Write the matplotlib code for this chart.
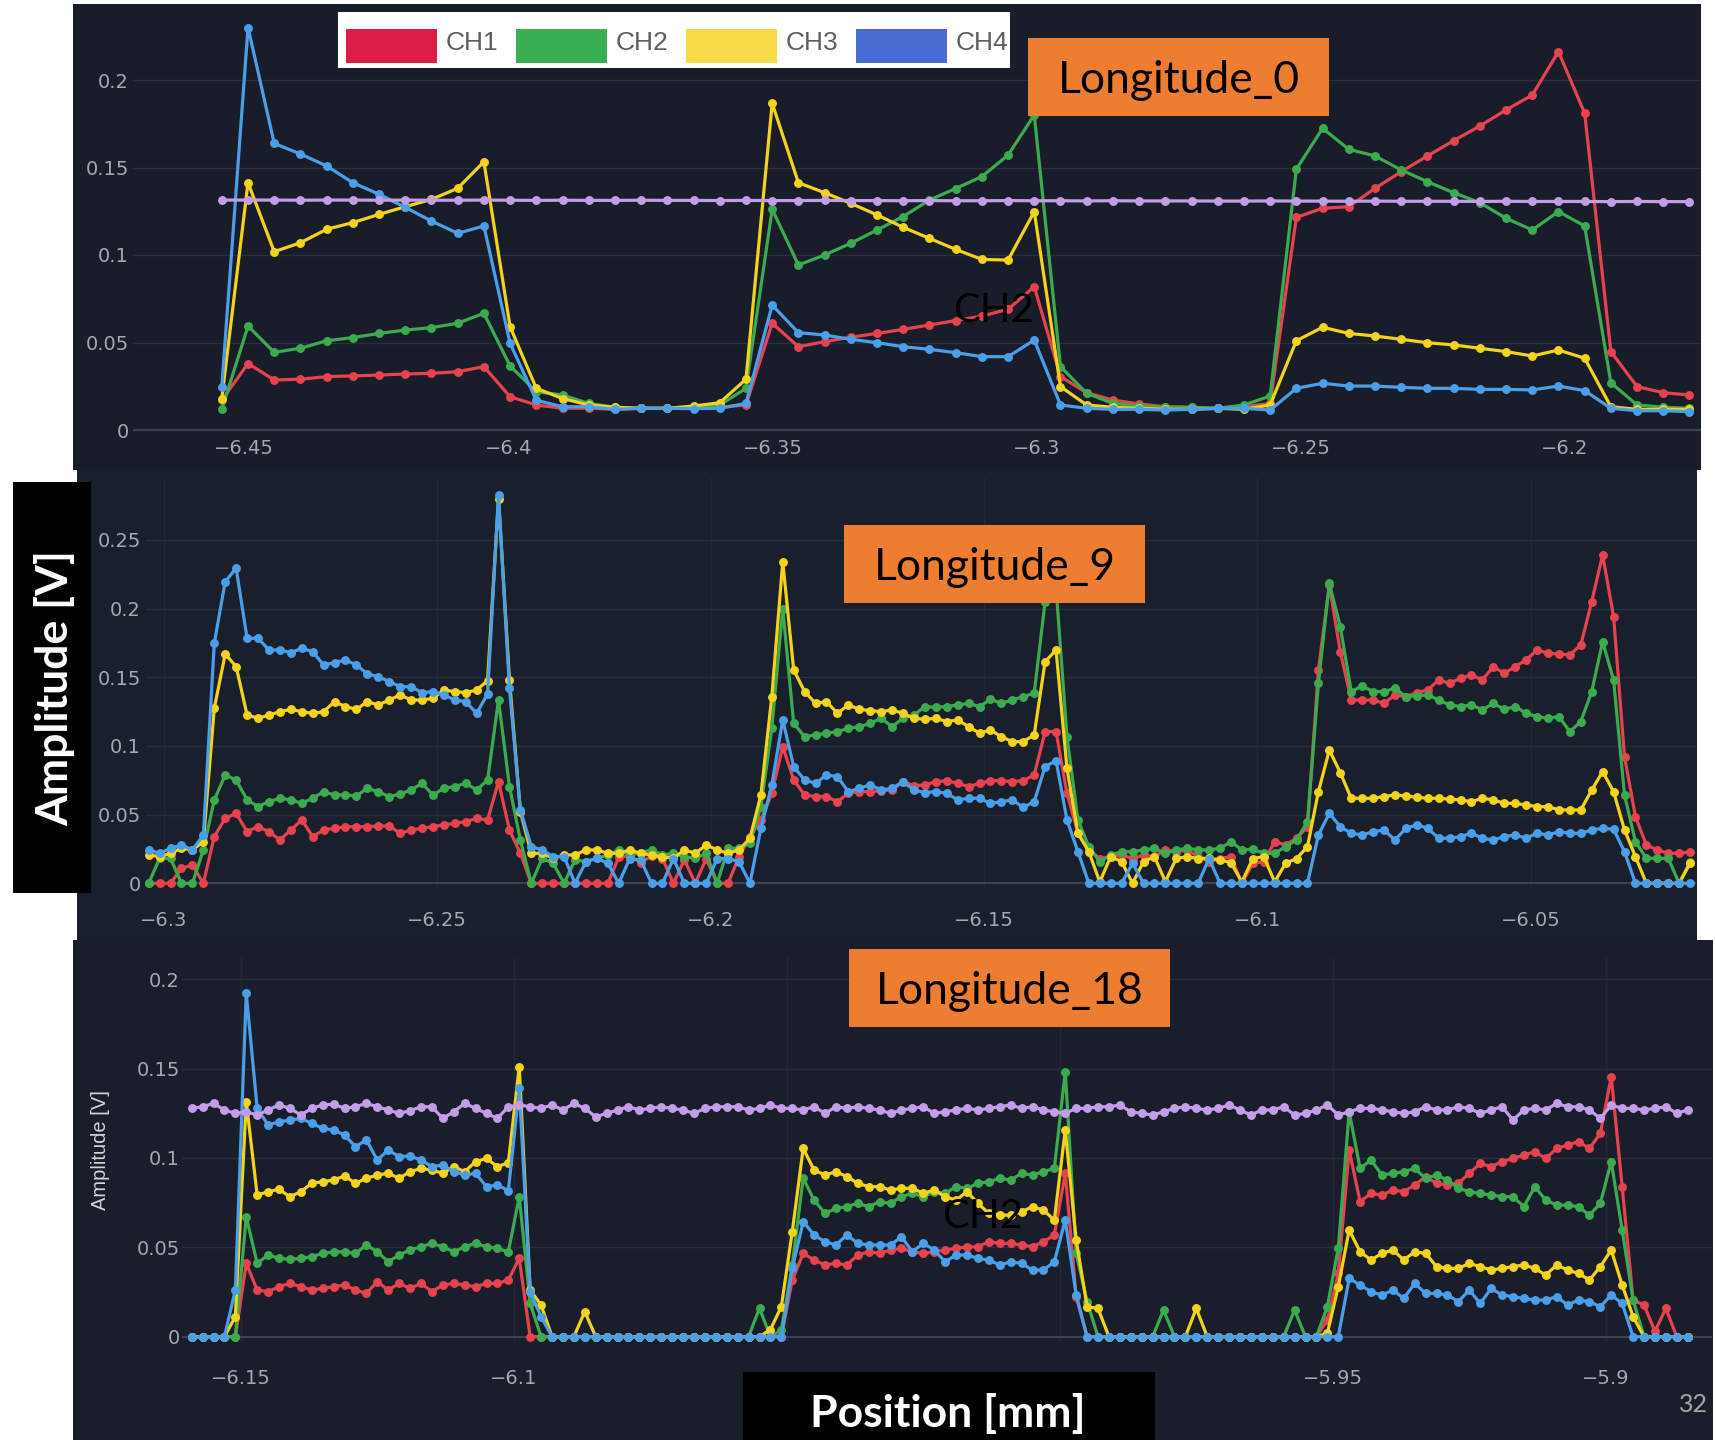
import numpy as np
import matplotlib
matplotlib.use("Agg")
import matplotlib.pyplot as plt
from matplotlib.patches import Rectangle

# ---------------- data ----------------
channels = ["CH1", "CH2", "CH3", "CH4"]
legend_colors = ["#dc1e46", "#3aae52", "#f7da48", "#4a6bd1"]
line_colors = ["#e6434f", "#3cab50", "#f3d31c", "#4b9fe9"]
ref_color = "#c49de9"

panel_titles = ["Longitude_0", "Longitude_9", "Longitude_18"]

# Longitude_0 scan (sample start / spacing in mm)
lon0_start, lon0_step = -6.4542, 0.00496
lon0_ch1 = [0.017, 0.038, 0.0286, 0.029, 0.0305, 0.0309, 0.0314, 0.032, 0.0324, 0.0333, 0.0362,
            0.019, 0.0143, 0.0124, 0.0125, 0.0118, 0.0124, 0.0124, 0.0125, 0.013, 0.0143,
            0.061, 0.0476, 0.0505, 0.053, 0.0552, 0.0575, 0.06, 0.0625, 0.0651, 0.069, 0.0819,
            0.0305, 0.0213, 0.0171, 0.0149, 0.0133, 0.013, 0.0124, 0.0133, 0.0152,
            0.1215, 0.1267, 0.1276, 0.1381, 0.1476, 0.1566, 0.1653, 0.1737, 0.1829, 0.1914, 0.2162, 0.181,
            0.0448, 0.0248, 0.0213, 0.02]
lon0_ch2 = [0.0118, 0.0594, 0.0444, 0.0467, 0.051, 0.0528, 0.0552, 0.0571, 0.0585, 0.061, 0.0667,
            0.0366, 0.0219, 0.02, 0.0152, 0.013, 0.0124, 0.0124, 0.0125, 0.0143, 0.0238,
            0.1261, 0.0943, 0.1, 0.1067, 0.1143, 0.122, 0.1314, 0.138, 0.1448, 0.1571, 0.18,
            0.0362, 0.021, 0.0152, 0.0137, 0.013, 0.013, 0.0124, 0.0143, 0.0194,
            0.149, 0.1724, 0.1604, 0.1566, 0.1486, 0.1419, 0.1356, 0.1299, 0.121, 0.1143, 0.1248, 0.1166,
            0.027, 0.0143, 0.013, 0.0124]
lon0_ch3 = [0.018, 0.1413, 0.1019, 0.107, 0.1147, 0.1185, 0.1232, 0.1276, 0.1318, 0.1381, 0.1533,
            0.059, 0.0238, 0.018, 0.0143, 0.013, 0.0124, 0.0124, 0.0137, 0.0156, 0.029,
            0.1867, 0.1413, 0.1356, 0.1295, 0.1229, 0.1158, 0.1095, 0.1032, 0.0975, 0.0971, 0.1248,
            0.0248, 0.0143, 0.013, 0.0124, 0.0118, 0.0118, 0.0124, 0.0118, 0.0143,
            0.051, 0.0587, 0.0552, 0.0537, 0.0518, 0.0499, 0.0486, 0.0467, 0.0448, 0.0423, 0.0457, 0.041,
            0.0133, 0.0118, 0.0118, 0.0118]
lon0_ch4 = [0.0248, 0.230, 0.1638, 0.1577, 0.1509, 0.1413, 0.1347, 0.1272, 0.1194, 0.1124, 0.1166,
            0.0495, 0.017, 0.0133, 0.0133, 0.0118, 0.0124, 0.0124, 0.0122, 0.0124, 0.0152,
            0.0714, 0.0556, 0.0543, 0.0518, 0.0499, 0.0476, 0.0461, 0.0442, 0.0419, 0.0419, 0.0514,
            0.0143, 0.0124, 0.0118, 0.0118, 0.0114, 0.0118, 0.0124, 0.0124, 0.0114,
            0.0238, 0.0267, 0.0251, 0.0251, 0.0244, 0.0238, 0.0238, 0.0232, 0.0232, 0.0229, 0.0251, 0.0225,
            0.0124, 0.011, 0.011, 0.0105]
lon0_ref = [0.1314, 0.1314, 0.1314, 0.1313, 0.1314, 0.1314, 0.1313, 0.1314, 0.1313, 0.1313, 0.1314,
            0.1313, 0.1312, 0.1313, 0.1312, 0.1312, 0.1313, 0.1312, 0.1312, 0.1311, 0.1312,
            0.1311, 0.1311, 0.1312, 0.1311, 0.1311, 0.131, 0.1311, 0.131, 0.131, 0.1311, 0.131,
            0.131, 0.1309, 0.131, 0.1309, 0.1309, 0.1309, 0.1308, 0.1308, 0.1309,
            0.1308, 0.1308, 0.1307, 0.1308, 0.1307, 0.1307, 0.1307, 0.1306, 0.1307, 0.1306, 0.1306, 0.1306,
            0.1305, 0.1306, 0.1305, 0.1305]

# Longitude_9 scan
lon9_start, lon9_step = -6.3028, 0.002
lon9_ch1 = [0.0, 0.0, 0.0, 0.0109, 0.0133, 0.0, 0.034, 0.0473, 0.0509, 0.0376,
            0.0412, 0.0376, 0.0315, 0.0388, 0.0461, 0.034, 0.0388, 0.04, 0.0412, 0.0412,
            0.0412, 0.0417, 0.0417, 0.0364, 0.0388, 0.04, 0.0412, 0.0425, 0.0437, 0.0449,
            0.0473, 0.0461, 0.074, 0.0388, 0.0218, 0.0, 0.0, 0.0, 0.0, 0.0,
            0.0, 0.0, 0.0, 0.019, 0.02, 0.015, 0.02, 0.018, 0.0, 0.017,
            0.0, 0.018, 0.0, 0.0, 0.0194, 0.034, 0.0461, 0.0655, 0.0995, 0.0752,
            0.0643, 0.0631, 0.0631, 0.0594, 0.0655, 0.0667, 0.0667, 0.0674, 0.0679, 0.074,
            0.0711, 0.0716, 0.074, 0.0747, 0.0728, 0.0704, 0.0728, 0.0747, 0.0747, 0.074,
            0.0747, 0.0788, 0.1104, 0.1104, 0.0655, 0.0364, 0.0243, 0.018, 0.0194, 0.0206,
            0.018, 0.0206, 0.0194, 0.0243, 0.023, 0.0243, 0.0194, 0.0158, 0.018, 0.0194,
            0.0, 0.0146, 0.0158, 0.0303, 0.0279, 0.0328, 0.0412, 0.1553, 0.2171, 0.1686,
            0.1334, 0.1334, 0.1334, 0.131, 0.1371, 0.1359, 0.1388, 0.1407, 0.148, 0.1456,
            0.1492, 0.1516, 0.148, 0.1577, 0.1528, 0.1577, 0.1625, 0.1698, 0.1674, 0.1669,
            0.1662, 0.1735, 0.205, 0.239, 0.1941, 0.0922, 0.0485, 0.0279, 0.0243, 0.0218,
            0.0218, 0.023]
lon9_ch2 = [0.0, 0.0182, 0.0182, 0.0, 0.0, 0.0243, 0.0607, 0.0788, 0.0752, 0.0607,
            0.0558, 0.0594, 0.0619, 0.0607, 0.0582, 0.0619, 0.0667, 0.0643, 0.0643, 0.0636,
            0.0691, 0.0667, 0.0631, 0.065, 0.0679, 0.0728, 0.0643, 0.0691, 0.0704, 0.0728,
            0.0679, 0.0752, 0.1334, 0.0704, 0.0315, 0.0, 0.0182, 0.0146, 0.0, 0.017,
            0.0158, 0.0182, 0.0206, 0.0243, 0.0206, 0.0223, 0.0243, 0.0206, 0.0218, 0.0194,
            0.0182, 0.0218, 0.0, 0.0255, 0.0255, 0.0291, 0.0558, 0.1128, 0.2, 0.1164,
            0.1067, 0.108, 0.1092, 0.1104, 0.1128, 0.114, 0.1164, 0.1201, 0.114, 0.1201,
            0.1225, 0.1286, 0.1281, 0.1286, 0.1298, 0.131, 0.1286, 0.1339, 0.131, 0.1334,
            0.1359, 0.1383, 0.205, 0.215, 0.1067, 0.0461, 0.0267, 0.0158, 0.0206, 0.023,
            0.023, 0.0243, 0.0255, 0.0218, 0.0243, 0.0255, 0.0243, 0.0243, 0.0255, 0.0303,
            0.0243, 0.0248, 0.0218, 0.0218, 0.0267, 0.0315, 0.0449, 0.1456, 0.2183, 0.1868,
            0.1395, 0.1436, 0.1395, 0.1395, 0.1419, 0.1359, 0.1364, 0.1371, 0.1334, 0.1298,
            0.1286, 0.1298, 0.1262, 0.131, 0.1266, 0.1286, 0.1237, 0.1213, 0.1201, 0.1213,
            0.1104, 0.1177, 0.1395, 0.1759, 0.148, 0.0643, 0.0303, 0.0182, 0.0182, 0.0182,
            0.0, 0.0158]
lon9_ch3 = [0.0206, 0.0194, 0.0218, 0.0255, 0.0243, 0.0303, 0.1274, 0.1669, 0.1577, 0.1225,
            0.1201, 0.1225, 0.1249, 0.1266, 0.1249, 0.1237, 0.1249, 0.1322, 0.1286, 0.1266,
            0.1322, 0.1298, 0.1334, 0.1371, 0.1334, 0.1334, 0.1346, 0.1407, 0.1395, 0.1388,
            0.1407, 0.1475, 0.28, 0.148, 0.0522, 0.0218, 0.0218, 0.0182, 0.0206, 0.0206,
            0.0243, 0.0243, 0.0218, 0.0218, 0.0243, 0.0218, 0.0206, 0.0194, 0.0182, 0.0243,
            0.0218, 0.0279, 0.0243, 0.0218, 0.0243, 0.0328, 0.0643, 0.1359, 0.2341, 0.1553,
            0.1395, 0.131, 0.1322, 0.1237, 0.1298, 0.1266, 0.1257, 0.1249, 0.1262, 0.1237,
            0.1201, 0.1194, 0.1201, 0.1177, 0.1189, 0.114, 0.1092, 0.1116, 0.1067, 0.1031,
            0.1031, 0.108, 0.1613, 0.1698, 0.0837, 0.0364, 0.023, 0.001, 0.0194, 0.0158,
            0.0, 0.0158, 0.0194, 0.0012, 0.0182, 0.0194, 0.018, 0.0182, 0.017, 0.015,
            0.001, 0.018, 0.0194, 0.001, 0.0146, 0.018, 0.0267, 0.0667, 0.097, 0.0805,
            0.0619, 0.0619, 0.0619, 0.0631, 0.0643, 0.0636, 0.0626, 0.0619, 0.0619, 0.0612,
            0.0607, 0.0594, 0.0619, 0.0607, 0.0582, 0.0582, 0.057, 0.0558, 0.0558, 0.0534,
            0.0534, 0.0534, 0.0679, 0.0813, 0.0667, 0.0388, 0.0194, 0.0, 0.0, 0.0,
            0.0, 0.0146]
lon9_ch4 = [0.0243, 0.0218, 0.0255, 0.0279, 0.0243, 0.0352, 0.1747, 0.2196, 0.2293, 0.1783,
            0.1783, 0.1698, 0.1698, 0.1679, 0.171, 0.1686, 0.1589, 0.1606, 0.1625, 0.1589,
            0.1524, 0.1504, 0.1468, 0.1431, 0.1431, 0.1388, 0.1395, 0.1371, 0.1334, 0.1322,
            0.1237, 0.1378, 0.2826, 0.1419, 0.0534, 0.0267, 0.0243, 0.0194, 0.0194, 0.0,
            0.0158, 0.0182, 0.0146, 0.0, 0.018, 0.017, 0.0, 0.0, 0.018, 0.0,
            0.0, 0.0, 0.018, 0.018, 0.0158, 0.0, 0.04, 0.0716, 0.1189, 0.0849,
            0.0752, 0.0728, 0.0788, 0.0776, 0.0667, 0.0691, 0.0716, 0.0679, 0.0691, 0.074,
            0.0679, 0.066, 0.0667, 0.0655, 0.0607, 0.0619, 0.0619, 0.0582, 0.0594, 0.0607,
            0.0553, 0.0594, 0.0849, 0.0893, 0.0461, 0.023, 0.0, 0.0, 0.0, 0.0,
            0.0146, 0.0, 0.0, 0.0, 0.0, 0.0, 0.0, 0.018, 0.0, 0.0,
            0.0, 0.0, 0.0, 0.0, 0.0, 0.0, 0.0, 0.0352, 0.0509, 0.0412,
            0.0364, 0.0352, 0.0376, 0.0388, 0.0315, 0.04, 0.0425, 0.04, 0.0328, 0.0328,
            0.034, 0.0364, 0.0328, 0.0315, 0.034, 0.0352, 0.0328, 0.0364, 0.0352, 0.0376,
            0.0364, 0.0364, 0.0388, 0.04, 0.0393, 0.023, 0.0, 0.0, 0.0, 0.0,
            0.0, 0.0]

# Longitude_18 scan
lon18_start, lon18_step = -6.159, 0.002
lon18_ch1 = [0, 0, 0, 0, 0, 0.041, 0.0261, 0.0252, 0.028, 0.0298,
             0.028, 0.0261, 0.027, 0.028, 0.0289, 0.0261, 0.0242, 0.0308, 0.0261, 0.0298,
             0.027, 0.0298, 0.0252, 0.0289, 0.0298, 0.0289, 0.028, 0.0298, 0.0298, 0.0317,
             0.0438, 0, 0, 0, 0, 0, 0, 0, 0, 0,
             0, 0, 0, 0, 0, 0, 0, 0, 0, 0,
             0, 0, 0, 0, 0, 0.0317, 0.0466, 0.0429, 0.0401, 0.041,
             0.0401, 0.0457, 0.0475, 0.0466, 0.0485, 0.0494, 0.0475, 0.0466, 0.0475, 0.0485,
             0.0494, 0.0503, 0.0503, 0.0531, 0.0522, 0.0522, 0.0513, 0.0503, 0.0531, 0.0569,
             0.0914, 0.0224, 0, 0, 0, 0, 0, 0, 0, 0,
             0, 0, 0, 0, 0, 0, 0, 0, 0, 0,
             0, 0, 0, 0, 0.0093, 0.0354, 0.1044, 0.0755, 0.0802, 0.0792,
             0.082, 0.0811, 0.0848, 0.0895, 0.0858, 0.0848, 0.0858, 0.0914, 0.0969, 0.0951,
             0.0979, 0.0997, 0.1016, 0.1035, 0.0997, 0.1053, 0.1072, 0.1091, 0.1053, 0.1137,
             0.1454, 0.0839, 0.0205, 0.0177, 0.003, 0.0158, 0, 0]
lon18_ch2 = [0, 0, 0, 0, 0, 0.0671, 0.041, 0.0457, 0.0438, 0.0433,
             0.0438, 0.0447, 0.0466, 0.0475, 0.0475, 0.0466, 0.0513, 0.0475, 0.0419, 0.0457,
             0.0485, 0.0503, 0.0522, 0.0503, 0.0475, 0.0503, 0.0522, 0.0503, 0.0494, 0.0475,
             0.0783, 0.0186, 0, 0, 0, 0, 0, 0, 0, 0,
             0, 0, 0, 0, 0, 0, 0, 0, 0, 0,
             0, 0, 0.016, 0, 0.0037, 0.0401, 0.0886, 0.0764, 0.069, 0.0718,
             0.0727, 0.0746, 0.0727, 0.0755, 0.0746, 0.0783, 0.0802, 0.0783, 0.0811, 0.0802,
             0.0839, 0.083, 0.0858, 0.0867, 0.0886, 0.0876, 0.0914, 0.0904, 0.0923, 0.0941,
             0.1482, 0.0466, 0.0196, 0, 0, 0, 0, 0, 0, 0.0149,
             0, 0, 0, 0, 0, 0, 0, 0, 0, 0,
             0, 0.0149, 0, 0, 0.0168, 0.0494, 0.1258, 0.0941, 0.0988, 0.0904,
             0.0914, 0.0923, 0.0941, 0.0886, 0.0904, 0.0876, 0.083, 0.0811, 0.0802, 0.0792,
             0.0783, 0.0783, 0.0727, 0.0839, 0.0764, 0.0736, 0.0736, 0.0727, 0.068, 0.0746,
             0.0979, 0.0597, 0.0205, 0, 0, 0, 0, 0]
lon18_ch3 = [0, 0, 0, 0, 0.0112, 0.1314, 0.0792, 0.0811, 0.0824, 0.0783,
             0.0811, 0.0858, 0.0867, 0.0876, 0.0899, 0.0858, 0.0886, 0.0904, 0.0914, 0.0886,
             0.0923, 0.0941, 0.0932, 0.0914, 0.0951, 0.0923, 0.0979, 0.0997, 0.0951, 0.0973,
             0.151, 0.0261, 0.0177, 0, 0, 0, 0.014, 0, 0, 0,
             0, 0, 0, 0, 0, 0, 0, 0, 0, 0,
             0, 0, 0, 0.004, 0.0168, 0.0587, 0.1053, 0.0932, 0.0904, 0.0923,
             0.0895, 0.0858, 0.0839, 0.0839, 0.082, 0.083, 0.083, 0.0802, 0.082, 0.0783,
             0.0764, 0.0811, 0.0746, 0.069, 0.068, 0.068, 0.0699, 0.0727, 0.0708, 0.0652,
             0.1156, 0.0541, 0.0168, 0.0158, 0, 0, 0, 0, 0, 0,
             0, 0, 0.0158, 0, 0, 0, 0, 0, 0, 0,
             0, 0, 0, 0, 0.0019, 0.028, 0.0597, 0.0475, 0.0429, 0.0466,
             0.0485, 0.0429, 0.0475, 0.0466, 0.0392, 0.0382, 0.0382, 0.041, 0.0392, 0.0373,
             0.0382, 0.0392, 0.0401, 0.0382, 0.0345, 0.0401, 0.0373, 0.0354, 0.0317, 0.0392,
             0.0485, 0.0289, 0.0112, 0, 0, 0, 0, 0]
lon18_ch4 = [0, 0, 0, 0, 0.0261, 0.192, 0.1277, 0.1184, 0.1202, 0.1212,
             0.1221, 0.1193, 0.1165, 0.1156, 0.1128, 0.1063, 0.11, 0.0988, 0.1044, 0.1007,
             0.1011, 0.0988, 0.0951, 0.096, 0.0923, 0.0904, 0.0914, 0.0839, 0.0848, 0.0817,
             0.1389, 0.0252, 0.0112, 0, 0, 0, 0, 0, 0, 0,
             0, 0, 0, 0, 0, 0, 0, 0, 0, 0,
             0, 0, 0, 0, 0, 0.0382, 0.0643, 0.0569, 0.0531, 0.0513,
             0.0569, 0.0522, 0.0513, 0.0513, 0.0513, 0.0559, 0.0475, 0.0522, 0.0485, 0.0419,
             0.0457, 0.0457, 0.0438, 0.0429, 0.0401, 0.0419, 0.041, 0.0373, 0.0373, 0.0419,
             0.0652, 0.0233, 0, 0, 0, 0, 0, 0, 0, 0,
             0, 0, 0, 0, 0, 0, 0, 0, 0, 0,
             0, 0, 0, 0, 0, 0, 0.0326, 0.0289, 0.0252, 0.0233,
             0.0261, 0.0214, 0.0298, 0.0242, 0.0242, 0.0233, 0.0196, 0.0261, 0.0186, 0.027,
             0.0233, 0.0224, 0.0214, 0.0205, 0.0205, 0.0224, 0.0177, 0.0205, 0.0196, 0.0168,
             0.0233, 0.0186, 0, 0, 0, 0, 0, 0]
lon18_ref = [0.1277, 0.1286, 0.1305, 0.1268, 0.1249, 0.1258, 0.124, 0.1268, 0.1296, 0.1277,
             0.124, 0.1277, 0.1296, 0.1301, 0.1277, 0.1286, 0.1305, 0.1286, 0.1268, 0.1249,
             0.1264, 0.1286, 0.1286, 0.1221, 0.1258, 0.1305, 0.1277, 0.1249, 0.1221, 0.1286,
             0.1296, 0.1286, 0.1277, 0.1296, 0.1268, 0.1305, 0.1277, 0.123, 0.1249, 0.1268,
             0.1286, 0.1268, 0.1277, 0.1286, 0.1277, 0.1268, 0.1249, 0.1277, 0.1286, 0.1286,
             0.1286, 0.1268, 0.1277, 0.1296, 0.1277, 0.1277, 0.1268, 0.1286, 0.1249, 0.1286,
             0.1277, 0.1286, 0.1277, 0.1268, 0.1249, 0.1268, 0.1277, 0.1286, 0.1249, 0.1258,
             0.1268, 0.1277, 0.1268, 0.1277, 0.1286, 0.1296, 0.1277, 0.1286, 0.1268, 0.1258,
             0.1249, 0.1277, 0.1277, 0.1286, 0.1286, 0.1296, 0.1258, 0.1249, 0.124, 0.1258,
             0.1277, 0.1286, 0.1277, 0.1268, 0.1277, 0.1296, 0.1268, 0.124, 0.1268, 0.1268,
             0.1286, 0.124, 0.1249, 0.1268, 0.1296, 0.124, 0.1258, 0.1277, 0.1277, 0.1268,
             0.1258, 0.1249, 0.1258, 0.1286, 0.1268, 0.1268, 0.1286, 0.1277, 0.1249, 0.1268,
             0.1286, 0.1212, 0.1268, 0.1277, 0.1268, 0.1305, 0.1286, 0.1286, 0.1268, 0.1221,
             0.1296, 0.1277, 0.1277, 0.1268, 0.1277, 0.1286, 0.1249, 0.1268]

# axis ticks
lon0_xticks = [-6.45, -6.4, -6.35, -6.3, -6.25, -6.2]
lon0_xlabels = ["\u22126.45", "\u22126.4", "\u22126.35", "\u22126.3", "\u22126.25", "\u22126.2"]
lon0_yticks = [0, 0.05, 0.1, 0.15, 0.2]
lon0_ylabels = ["0", "0.05", "0.1", "0.15", "0.2"]
lon9_xticks = [-6.3, -6.25, -6.2, -6.15, -6.1, -6.05]
lon9_xlabels = ["\u22126.3", "\u22126.25", "\u22126.2", "\u22126.15", "\u22126.1", "\u22126.05"]
lon9_yticks = [0, 0.05, 0.1, 0.15, 0.2, 0.25]
lon9_ylabels = ["0", "0.05", "0.1", "0.15", "0.2", "0.25"]
# the -6.05 and -6 labels sit under the "Position [mm]" caption
lon18_xticks = [-6.15, -6.1, -6.05, -6.0, -5.95, -5.9]
lon18_xlabels = ["\u22126.15", "\u22126.1", "", "", "\u22125.95", "\u22125.9"]
lon18_yticks = [0, 0.05, 0.1, 0.15, 0.2]
lon18_ylabels = ["0", "0.05", "0.1", "0.15", "0.2"]

# ---------------- figure ----------------
W, H = 1716, 1440
fig = plt.figure(figsize=(W / 100, H / 100), dpi=100)
fig.patch.set_facecolor("white")

TICK_COLOR = "#a3a9b3"
LABEL_FONT = ["Lato", "DejaVu Sans"]
NARROW_FONT = ["Liberation Sans Narrow", "Liberation Sans", "DejaVu Sans"]


def fx(px):
    return px / W


def fy(py):
    return 1 - py / H


def add_rect(l, t, r, b, color, z):
    fig.add_artist(Rectangle((fx(l), fy(b)), (r - l) / W, (b - t) / H,
                             transform=fig.transFigure, facecolor=color,
                             edgecolor="none", zorder=z))


def make_axes(box, x_ref, px_ref, ppx, y0_px, ppy):
    l, t, r, b = box
    ax = fig.add_axes([fx(l), fy(b), (r - l) / W, (b - t) / H])
    ax.set_facecolor("none")
    ax.set_xlim(x_ref + (l - px_ref) / ppx, x_ref + (r - px_ref) / ppx)
    ax.set_ylim((y0_px - b) / ppy, (y0_px - t) / ppy)
    for s in ax.spines.values():
        s.set_visible(False)
    return ax


def style_axes(ax, xt, xl, yt, yl, xpad, ypad, vgrid):
    ax.set_xticks(xt, xl)
    ax.set_yticks(yt, yl)
    ax.tick_params(length=0, labelsize=14, labelcolor=TICK_COLOR)
    ax.tick_params(axis="x", pad=xpad)
    ax.tick_params(axis="y", pad=ypad)
    ax.set_axisbelow(True)
    ax.grid(axis="y", color="#283040", lw=1.0)
    if vgrid:
        ax.grid(axis="x", color="#222936", lw=1.0)
    ax.axhline(0, color="#3b4251", lw=1.4, zorder=1)


def draw_traces(ax, start, step, series, ref=None):
    x = start + step * np.arange(len(series[0]))
    for vals, col in zip(series, line_colors):
        ax.plot(x, vals, color=col, lw=2.3, marker="o", ms=5.4, mfc=col, mec=col,
                clip_on=False, zorder=3, solid_joinstyle="round")
    if ref is not None:
        ax.plot(x, ref, color=ref_color, lw=2.3, marker="o", ms=5.4, mfc=ref_color,
                mec=ref_color, clip_on=False, zorder=3)


# dark screen backgrounds
add_rect(72.7, 4, 1701, 469.5, "#181d29", -5)
add_rect(76.7, 470, 1696.7, 940, "#1a1f2c", -5)
add_rect(73, 940, 1713, 1440, "#191e2a", -5)

# Longitude_0
ax0 = make_axes((133, 8, 1701, 432), -6.45, 244, 5284, 430, 1750)
style_axes(ax0, lon0_xticks, lon0_xlabels, lon0_yticks, lon0_ylabels, 5.0, 2.9, False)
draw_traces(ax0, lon0_start, lon0_step, [lon0_ch1, lon0_ch2, lon0_ch3, lon0_ch4], lon0_ref)

# Longitude_9
ax1 = make_axes((146, 478, 1696, 888), -6.3, 164, 5466, 883.3, 1374)
style_axes(ax1, lon9_xticks, lon9_xlabels, lon9_yticks, lon9_ylabels, 16.2, 3.6, True)
draw_traces(ax1, lon9_start, lon9_step, [lon9_ch1, lon9_ch2, lon9_ch3, lon9_ch4])

# Longitude_18
ax2 = make_axes((182, 958, 1712, 1341), -6.15, 240.8, 5460, 1336.7, 1788)
style_axes(ax2, lon18_xticks, lon18_xlabels, lon18_yticks, lon18_ylabels, 20.0, 1.4, True)
draw_traces(ax2, lon18_start, lon18_step, [lon18_ch1, lon18_ch2, lon18_ch3, lon18_ch4], lon18_ref)
fig.text(fx(100), fy(1150), "Amplitude [V]", rotation=90, ha="center", va="center",
         color="#d2d4d8", fontsize=14.5, family=NARROW_FONT)

# channel legend
add_rect(338, 12, 1010, 68, "white", 10)
for i, (name, col) in enumerate(zip(channels, legend_colors)):
    x0 = 346 + 170 * i
    add_rect(x0, 29, x0 + 91, 63, col, 11)
    fig.text(fx(x0 + 100), fy(43), name, ha="left", va="center", color="#5f5f5f",
             fontsize=19, family=NARROW_FONT, zorder=11)

# scan name tags
tag_boxes = [(1028, 38, 1329, 116), (844, 525, 1145, 603), (849, 949, 1170, 1027)]
for title, (l, t, r, b) in zip(panel_titles, tag_boxes):
    add_rect(l, t, r, b, "#ed7d31", 10)
    fig.text(fx((l + r) / 2), fy((t + b) / 2 + 16), title, ha="center", va="baseline",
             color="black", fontsize=32, family=LABEL_FONT, zorder=11)

# channel annotations
fig.text(fx(994), fy(321.7), "CH2", ha="center", va="baseline", color="black",
         fontsize=29, family=LABEL_FONT, zorder=11)
fig.text(fx(982.5), fy(1228.3), "CH2", ha="center", va="baseline", color="black",
         fontsize=29, family=LABEL_FONT, zorder=11)

# shared axis titles
add_rect(13, 482, 91, 893, "black", 10)
fig.text(fx(68), fy(688), "Amplitude [V]", rotation=90, rotation_mode="anchor",
         ha="center", va="baseline", color="white", fontsize=32, fontweight="bold",
         family=LABEL_FONT, zorder=11)
add_rect(743, 1372, 1155, 1440, "black", 10)
fig.text(fx(948), fy(1426.7), "Position [mm]", ha="center", va="baseline", color="white",
         fontsize=32, fontweight="bold", family=LABEL_FONT, zorder=11)

# page number
fig.text(fx(1693), fy(1404), "32", ha="center", va="center", color="#a6a6a6",
         fontsize=18, family=LABEL_FONT, zorder=11)

fig.savefig("out.png", dpi=100, facecolor="white")
